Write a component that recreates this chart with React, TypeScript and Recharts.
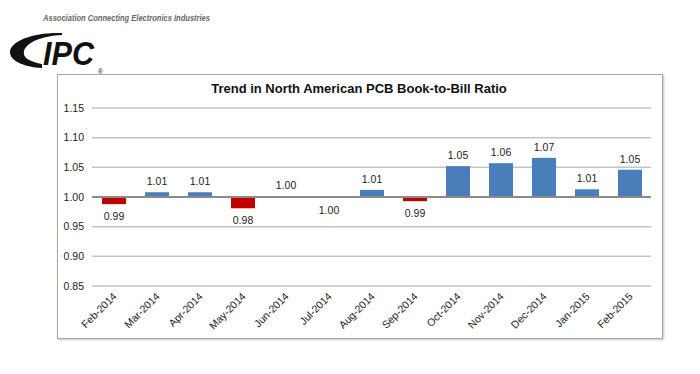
import { BarChart, Bar, XAxis, YAxis, CartesianGrid, ReferenceLine } from 'recharts';

const MONTHS = [
  'Feb-2014', 'Mar-2014', 'Apr-2014', 'May-2014', 'Jun-2014', 'Jul-2014', 'Aug-2014',
  'Sep-2014', 'Oct-2014', 'Nov-2014', 'Dec-2014', 'Jan-2015', 'Feb-2015',
];
const RATIOS = [0.988, 1.008, 1.008, 0.981, 1.001, 0.999, 1.012, 0.993, 1.052, 1.057, 1.066, 1.013, 1.046];
const LABELS = ['0.99', '1.01', '1.01', '0.98', '1.00', '1.00', '1.01', '0.99', '1.05', '1.06', '1.07', '1.01', '1.05'];
const Y_TICKS = [0.85, 0.9, 0.95, 1.0, 1.05, 1.1, 1.15];
const BASE = 1.0;

const UP = '#4a7ebb';
const DOWN = '#c00000';
const FONT = '"Liberation Sans", Arial, sans-serif';

const data = MONTHS.map((m, i) => ({
  month: m,
  range: [Math.min(BASE, RATIOS[i]), Math.max(BASE, RATIOS[i])],
  up: RATIOS[i] >= BASE,
  label: LABELS[i],
}));

function BarShape(props: any) {
  const { x, y, width, height, payload } = props;
  const cx = x + width / 2;
  return (
    <g>
      {height >= 1 && (
        <rect x={x} y={y} width={width} height={height} fill={payload.up ? UP : DOWN} />
      )}
      <text
        x={cx}
        y={payload.up ? y - 7 : y + height + 16}
        textAnchor="middle"
        fontSize={10.5}
        fontFamily={FONT}
        fill="#222"
      >
        {payload.label}
      </text>
    </g>
  );
}

function MonthTick(props: any) {
  const { x, y, payload } = props;
  return (
    <g transform={`translate(${x + 4},${y + 3})`}>
      <text textAnchor="end" transform="rotate(-45)" fontSize={10.5} fontFamily={FONT} fill="#222">
        {payload.value}
      </text>
    </g>
  );
}

function Logo() {
  return (
    <svg width={230} height={78} style={{ position: 'absolute', left: 0, top: 0 }}>
      <text
        x={43}
        y={21}
        fontSize={8.5}
        fontStyle="italic"
        fontWeight="bold"
        fontFamily={FONT}
        fill="#666"
        textLength={167}
        lengthAdjust="spacingAndGlyphs"
      >
        Association Connecting Electronics Industries
      </text>
      <path
        d="M 62 33 C 34 32, 10 41, 10 52 C 10 61, 24 67, 42 68 L 42 64 C 31 62, 22 58, 24 51 C 27 42, 42 36, 62 35 Z"
        fill="#111"
      />
      <text
        x={43}
        y={65}
        fontSize={33}
        fontStyle="italic"
        fontWeight="bold"
        fontFamily={FONT}
        fill="#111"
        textLength={51}
        lengthAdjust="spacingAndGlyphs"
      >
        IPC
      </text>
      <text x={98} y={74} fontSize={6.5} fontFamily={FONT} fill="#111">®</text>
    </svg>
  );
}

export default function App() {
  return (
    <div style={{ position: 'absolute', left: 0, top: 0, width: 700, height: 374, background: '#fff', fontFamily: FONT }}>
      <Logo />
      <div
        style={{
          position: 'absolute',
          left: 57,
          top: 74,
          width: 604,
          height: 263,
          border: '1px solid #a8a8a8',
          boxShadow: '1px 1px 2px rgba(0,0,0,0.25)',
        }}
      />
      <div
        style={{
          position: 'absolute',
          left: 57,
          top: 81,
          width: 604,
          textAlign: 'center',
          fontSize: 13,
          fontWeight: 'bold',
          color: '#111',
        }}
      >
        Trend in North American PCB Book-to-Bill Ratio
      </div>
      <div style={{ position: 'absolute', left: 0, top: 0 }}>
        <BarChart
          width={700}
          height={374}
          data={data}
          margin={{ top: 108, right: 49, bottom: 18, left: 0 }}
          barSize={24}
        >
          <CartesianGrid vertical={false} stroke="#c4c4c4" strokeWidth={1.5} />
          <XAxis
            dataKey="month"
            height={70}
            axisLine={false}
            tickLine={false}
            interval={0}
            tick={<MonthTick />}
          />
          <YAxis
            width={92}
            domain={[0.85, 1.15]}
            ticks={Y_TICKS}
            axisLine={false}
            tickLine={false}
            tickFormatter={(v: number) => v.toFixed(2)}
            tick={{ fontSize: 10.5, fontFamily: FONT, fill: '#222' }}
          />
          <Bar dataKey="range" shape={<BarShape />} isAnimationActive={false} />
          <ReferenceLine y={BASE} stroke="#8a8a8a" strokeWidth={2} />
        </BarChart>
      </div>
    </div>
  );
}
